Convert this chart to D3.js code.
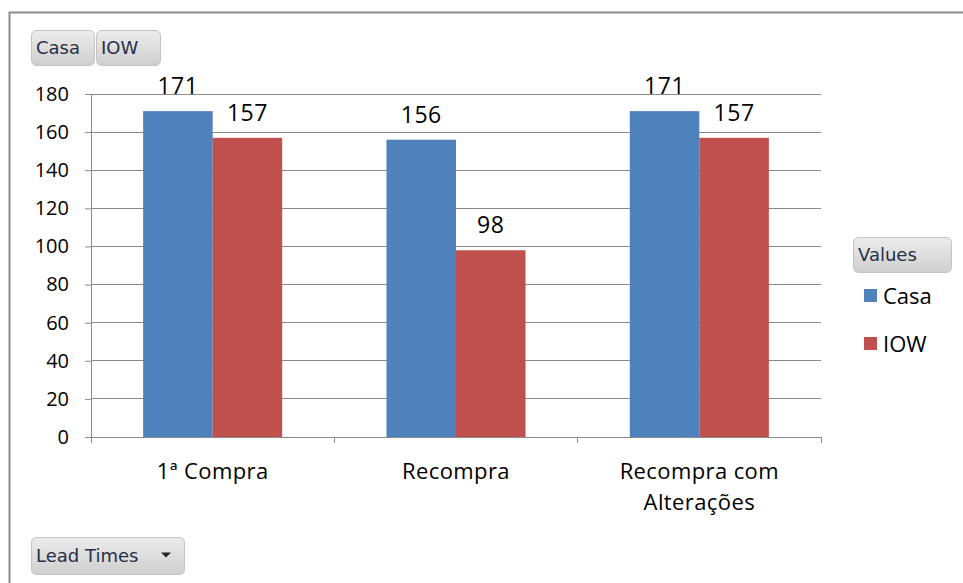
<!DOCTYPE html>
<html>
<head>
<meta charset="utf-8">
<script src="https://cdn.jsdelivr.net/npm/d3@7"></script>
<style>
  body { margin: 0; background: #fff; }
  svg { display: block; font-family: "Open Sans", "Noto Sans", sans-serif; }
</style>
</head>
<body>
<div id="chart"></div>
<script>
// data
const categories = ["1ª Compra", "Recompra", "Recompra com|Alterações"];
const seriesNames = ["Casa", "IOW"];
const casaValues = [171, 156, 171];
const iowValues = [157, 98, 157];
const yTicks = [0, 20, 40, 60, 80, 100, 120, 140, 160, 180];
const colors = ["#4F81BD", "#C0504D"];

const width = 963, height = 583;
const margin = {top: 94, left: 91, right: 142, bottom: 146};

const svg = d3.select("#chart").append("svg")
  .attr("width", width)
  .attr("height", height);

// gradient for the pivot buttons
const defs = svg.append("defs");
const grad = defs.append("linearGradient").attr("id", "btn").attr("x1", 0).attr("y1", 0).attr("x2", 0).attr("y2", 1);
grad.append("stop").attr("offset", "0%").attr("stop-color", "#ececec");
grad.append("stop").attr("offset", "100%").attr("stop-color", "#cfcfcf");

// outer frame
svg.append("rect")
  .attr("x", 9.5).attr("y", 12.5)
  .attr("width", 1000).attr("height", 700)
  .attr("fill", "none")
  .attr("stroke", "#8c8c8c")
  .attr("stroke-width", 2);

const data = categories.map((c, i) => ({cat: c, values: [casaValues[i], iowValues[i]]}));

const x0 = d3.scaleBand()
  .domain(categories)
  .range([margin.left, width - margin.right]);

const x1 = d3.scaleBand()
  .domain(seriesNames)
  .range([0, x0.bandwidth()])
  .paddingInner(0)
  .paddingOuter(0.75);

const y = d3.scaleLinear()
  .domain([0, 180])
  .range([height - margin.bottom, margin.top]);

// gridlines
svg.append("g")
  .selectAll("line")
  .data(yTicks.slice(1))
  .join("line")
    .attr("x1", margin.left)
    .attr("x2", width - margin.right)
    .attr("y1", d => y(d))
    .attr("y2", d => y(d))
    .attr("stroke", "#8a8a8a")
    .attr("stroke-width", 1)
    .attr("shape-rendering", "crispEdges");

// y axis
const yAxis = svg.append("g")
  .attr("transform", `translate(${margin.left},0)`)
  .call(d3.axisLeft(y).tickValues(yTicks).tickSize(6).tickPadding(16));
yAxis.select(".domain").attr("stroke", "#8a8a8a");
yAxis.selectAll(".tick line").attr("stroke", "#8a8a8a");
yAxis.selectAll("text")
  .attr("fill", "#000")
  .style("font-size", "20px")
  .style("font-family", "'Open Sans', 'Noto Sans', sans-serif");

// x axis
const xAxis = svg.append("g")
  .attr("transform", `translate(0,${y(0)})`)
  .call(d3.axisBottom(x0).tickSize(0).tickFormat(""));
xAxis.select(".domain").attr("stroke", "#8a8a8a");

// category dividers
svg.append("g")
  .selectAll("line")
  .data([0, 1, 2, 3])
  .join("line")
    .attr("x1", d => margin.left + d * x0.bandwidth())
    .attr("x2", d => margin.left + d * x0.bandwidth())
    .attr("y1", y(0))
    .attr("y2", y(0) + 6)
    .attr("stroke", "#8a8a8a")
    .attr("shape-rendering", "crispEdges");

// category labels
svg.append("g")
  .selectAll("text")
  .data(categories)
  .join("text")
    .attr("text-anchor", "middle")
    .attr("x", d => x0(d) + x0.bandwidth() / 2)
    .attr("y", y(0) + 42)
    .style("font-size", "22px")
    .style("letter-spacing", "0.4px")
    .each(function(d) {
      const parts = d.split("|");
      parts.forEach((p, i) => {
        d3.select(this).append("tspan")
          .attr("x", x0(d) + x0.bandwidth() / 2)
          .attr("dy", i === 0 ? 0 : 31)
          .text(p);
      });
    });

// bars
const groups = svg.append("g")
  .selectAll("g")
  .data(data)
  .join("g")
    .attr("transform", d => `translate(${x0(d.cat)},0)`);

groups.selectAll("rect")
  .data(d => d.values.map((v, i) => ({name: seriesNames[i], value: v, idx: i})))
  .join("rect")
    .attr("x", d => x1(d.name))
    .attr("y", d => y(d.value))
    .attr("width", x1.bandwidth())
    .attr("height", d => y(0) - y(d.value))
    .attr("fill", d => colors[d.idx]);

groups.selectAll("text")
  .data(d => d.values.map((v, i) => ({name: seriesNames[i], value: v})))
  .join("text")
    .attr("x", d => x1(d.name) + x1.bandwidth() / 2)
    .attr("y", d => y(d.value) - 17)
    .attr("text-anchor", "middle")
    .style("font-size", "23px")
    .style("letter-spacing", "0.5px")
    .text(d => d.value);

// button helper
function button(x, yy, w, h, label, arrow) {
  const g = svg.append("g");
  g.append("rect")
    .attr("x", x + 0.5).attr("y", yy + 0.5)
    .attr("width", w).attr("height", h)
    .attr("rx", 5)
    .attr("fill", "url(#btn)")
    .attr("stroke", "#c4c4c4");
  g.append("text")
    .attr("x", x + 5)
    .attr("y", yy + h / 2 + 6)
    .attr("fill", "#26304a")
    .style("font-family", "'DejaVu Sans', sans-serif")
    .style("font-size", "18px")
    .text(label);
  if (arrow) {
    const ax = x + w - 18, ay = yy + h / 2;
    g.append("path")
      .attr("d", `M${ax - 5},${ay - 3}L${ax + 5},${ay - 3}L${ax},${ay + 2}Z`)
      .attr("fill", "#222");
  }
}

button(31, 30, 63, 35, "Casa");
button(96, 30, 64, 35, "IOW");
button(853, 237, 98, 35, "Values");
button(31, 537, 153, 37, "Lead Times", true);

// legend
const legend = svg.append("g")
  .selectAll("g")
  .data(seriesNames)
  .join("g")
    .attr("transform", (d, i) => `translate(864,${289 + i * 48})`);
legend.append("rect")
  .attr("width", 13).attr("height", 13)
  .attr("fill", (d, i) => colors[i]);
legend.append("text")
  .attr("x", 19).attr("y", 15)
  .style("font-size", "22px")
  .text(d => d);
</script>
</body>
</html>
